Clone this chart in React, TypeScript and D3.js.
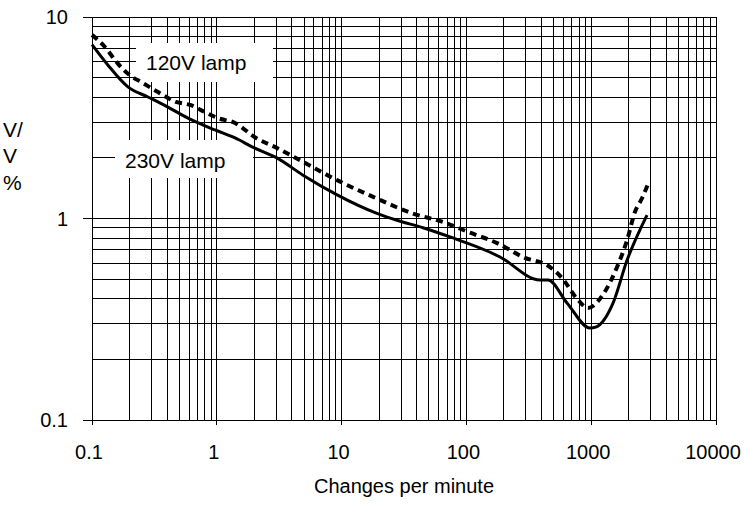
import React from "react";
import * as d3 from "d3";

// changes per minute vs. V/V % for the two lamp types
const lamp230x = [0.1, 0.134, 0.194, 0.281, 0.406, 0.588, 0.967, 1.4, 2.0, 3.03, 4.91, 9.2, 19.2, 27.8, 44.9, 74, 155, 186, 389, 451, 640, 977, 1100, 1496, 1937, 2800];
const lamp230y = [7.3, 5.78, 4.5, 4.01, 3.57, 3.15, 2.75, 2.51, 2.24, 2.0, 1.64, 1.31, 1.06, 0.98, 0.9, 0.81, 0.68, 0.644, 0.495, 0.495, 0.381, 0.286, 0.29, 0.38, 0.62, 1.04];

const lamp120x = [0.1, 0.127, 0.16, 0.2, 0.256, 0.338, 0.471, 0.62, 0.8, 1.02, 1.4, 2.02, 3.03, 4.91, 9.2, 17.9, 37, 65, 107, 176, 284, 468, 583, 769, 942, 1245, 1611, 1937, 2244, 2554, 2900];
const lamp120y = [8.15, 7.1, 5.9, 5.15, 4.7, 4.24, 3.79, 3.65, 3.38, 3.15, 2.98, 2.53, 2.24, 1.91, 1.55, 1.28, 1.06, 0.96, 0.85, 0.755, 0.644, 0.574, 0.507, 0.4, 0.36, 0.42, 0.574, 0.78, 1.08, 1.26, 1.52];

const xTicks = [0.1, 1, 10, 100, 1000, 10000];
const xTickLabels = ["0.1", "1", "10", "100", "1000", "10000"];
const yTicks = [0.1, 1, 10];
const yTickLabels = ["0.1", "1", "10"];

const W = 744;
const H = 510;
const font = "'Liberation Sans', Arial, sans-serif";

export default function App() {
  const x = d3.scaleLog().domain([0.1, 10000]).range([92, 716]);
  const y = d3.scaleLog().domain([0.1, 10]).range([420, 17]);

  // minor + major grid values
  const xGrid: number[] = [];
  for (let e = -1; e < 4; e++) for (let m = 1; m < 10; m++) xGrid.push(m * Math.pow(10, e));
  xGrid.push(10000);
  const yGrid: number[] = [];
  for (let e = -1; e < 1; e++) for (let m = 1; m < 10; m++) yGrid.push(m * Math.pow(10, e));
  yGrid.push(10);

  const line = d3
    .line<[number, number]>()
    .x((d) => x(d[0]))
    .y((d) => y(d[1]))
    .curve(d3.curveMonotoneX);

  const solid = lamp230x.map((v, i) => [v, lamp230y[i]] as [number, number]);
  const dashed = lamp120x.map((v, i) => [v, lamp120y[i]] as [number, number]);

  return (
    <svg width={W} height={H} style={{ position: "absolute", left: 0, top: 0, background: "#fff" }} fontFamily={font}>
      <g stroke="#000" strokeWidth={1} shapeRendering="crispEdges">
        {xGrid.map((v, i) => (
          <line key={"x" + i} x1={x(v)} x2={x(v)} y1={y(10)} y2={y(0.1)} />
        ))}
        {yGrid.map((v, i) => (
          <line key={"y" + i} x1={x(0.1)} x2={x(10000)} y1={y(v)} y2={y(v)} />
        ))}
        {xTicks.map((v, i) => (
          <line key={"xt" + i} x1={x(v)} x2={x(v)} y1={y(0.1)} y2={y(0.1) + 5} />
        ))}
        {yTicks.map((v, i) => (
          <line key={"yt" + i} x1={x(0.1) - 9} x2={x(0.1)} y1={y(v)} y2={y(v)} />
        ))}
      </g>

      <rect x={136} y={43} width={137} height={39} fill="#fff" />
      <rect x={115} y={140} width={138} height={38} fill="#fff" />
      <text x={146} y={70} fontSize={21}>120V lamp</text>
      <text x={125} y={168} fontSize={21}>230V lamp</text>

      <path d={line(dashed) || ""} fill="none" stroke="#000" strokeWidth={4} strokeDasharray="7,5" />
      <path d={line(solid) || ""} fill="none" stroke="#000" strokeWidth={3} />

      {yTicks.map((v, i) => (
        <text key={"yl" + i} x={68} y={y(v) + 7} fontSize={20} textAnchor="end">
          {yTickLabels[i]}
        </text>
      ))}
      {xTicks.map((v, i) => (
        <text key={"xl" + i} x={x(v) - 3} y={459} fontSize={20} textAnchor="middle">
          {xTickLabels[i]}
        </text>
      ))}
      <text x={404} y={493} fontSize={20} textAnchor="middle">Changes per minute</text>
      <text x={3} y={137} fontSize={21}>V/</text>
      <text x={3} y={163} fontSize={21}>V</text>
      <text x={3} y={190} fontSize={21}>%</text>
    </svg>
  );
}
